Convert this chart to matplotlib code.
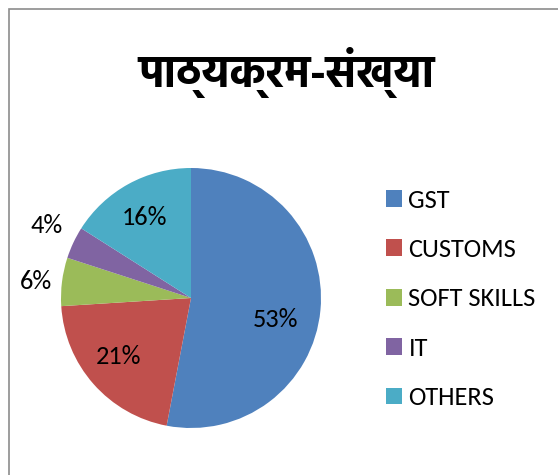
import matplotlib
matplotlib.use("Agg")
import matplotlib.pyplot as plt
import matplotlib.patches as mpatches
import numpy as np

#----------data----------
title = "पाठ्यक्रम-संख्या"
courses = ["GST", "CUSTOMS", "SOFT SKILLS", "IT", "OTHERS"]
share = [53, 21, 6, 4, 16]
colors = ["#4F81BD", "#C0504D", "#9BBB59", "#8064A2", "#4BACC6"]

#----------label placement (radius, angle nudge in deg)----------
label_r = [0.675, 0.717, 1.198, 1.244, 0.71]
label_nudge = [-9.1, -2.5, 1.3, -1.6, 1.1]

txt_font = ["Carlito", "Lato", "DejaVu Sans"]
deva_font = ["Hind", "Poppins", "Mukta", "Noto Sans Devanagari", "FreeSans"]

W, H = 558, 475
fig = plt.figure(figsize=(W / 100, H / 100), dpi=100)

# chart frame (only top and left edges are inside the picture)
fig.patches.append(mpatches.Rectangle((8.5 / W, -0.2), 2, 1.2 - 8.5 / H,
                                      transform=fig.transFigure, fill=False,
                                      edgecolor="#8c8c8c", linewidth=1.2))

cx, cy, r = 191, 298, 130
ax = fig.add_axes([(cx - r) / W, (H - cy - r) / H, 2 * r / W, 2 * r / H])
wedges, texts, autotexts = ax.pie(share, colors=colors, startangle=90,
                                  counterclock=False, autopct="%1.0f%%",
                                  wedgeprops=dict(linewidth=0),
                                  textprops=dict(family=txt_font, fontsize=19,
                                                 color="black"))
for w, t, d, nd in zip(wedges, autotexts, label_r, label_nudge):
    a = np.deg2rad((w.theta1 + w.theta2) / 2 + nd)
    t.set_position((d * np.cos(a), d * np.sin(a)))
ax.set_xlim(-1, 1)
ax.set_ylim(-1, 1)
ax.set_aspect("equal")
ax.axis("off")

fig.text(286 / W, 1 - 72 / H, title, ha="center", va="center",
         fontsize=32, fontweight="bold", family=deva_font)

ax.legend(wedges, courses, loc="center left",
          bbox_to_anchor=(386 / W, 1 - 299 / H), bbox_transform=fig.transFigure,
          frameon=False, borderpad=0, borderaxespad=0,
          handlelength=0.6, handleheight=0.6, handletextpad=0.25,
          labelspacing=1.0, prop=dict(family=txt_font, size=19))

fig.savefig("out.png", dpi=100)
